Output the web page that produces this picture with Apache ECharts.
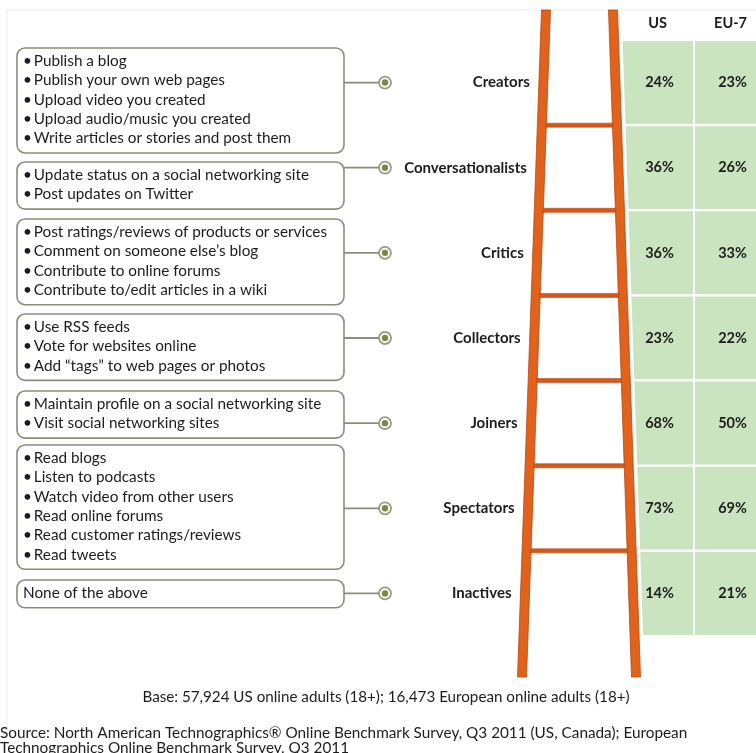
<!DOCTYPE html>
<html>
<head>
<meta charset="utf-8">
<script src="https://cdn.jsdelivr.net/npm/echarts/dist/echarts.min.js"></script>
<style>
html,body{margin:0;padding:0;background:#fff;overflow:hidden;width:756px;height:753px;}
#chart{width:767px;height:753px;}
</style>
</head>
<body>
<div id="chart"></div>
<script>
// ---------------- DATA ----------------
const segments = ['Creators', 'Conversationalists', 'Critics', 'Collectors', 'Joiners', 'Spectators', 'Inactives'];
const regions = ['US', 'EU-7'];
const usShare = [24, 36, 36, 23, 68, 73, 14];
const euShare = [23, 26, 33, 22, 50, 69, 21];
const activities = [
  ['Publish a blog', 'Publish your own web pages', 'Upload video you created', 'Upload audio/music you created', 'Write articles or stories and post them'],
  ['Update status on a social networking site', 'Post updates on Twitter'],
  ['Post ratings/reviews of products or services', 'Comment on someone else\u2019s blog', 'Contribute to online forums', 'Contribute to/edit articles in a wiki'],
  ['Use RSS feeds', 'Vote for websites online', 'Add \u201ctags\u201d to web pages or photos'],
  ['Maintain profile on a social networking site', 'Visit social networking sites'],
  ['Read blogs', 'Listen to podcasts', 'Watch video from other users', 'Read online forums', 'Read customer ratings/reviews', 'Read tweets'],
  ['None of the above']
];
const baseNote = 'Base: 57,924 US online adults (18+); 16,473 European online adults (18+)';
const sourceNote = 'Source: North American Technographics\u00ae Online Benchmark Survey, Q3 2011 (US, Canada); European\nTechnographics Online Benchmark Survey, Q3 2011';

// ---------------- LAYOUT / STYLE ----------------
const FONT = 'Lato, "Noto Sans", sans-serif';
const boxTops = [48, 162, 219, 314, 391, 445, 580];
const boxLeft = 17, boxRight = 344, lineH = 19.3, boxPadTop = 3.5, boxPadBottom = 5;
const rail = { top: 10, bottom: 677, w: 9, leftTop: 546, leftBottom: 522, rightTop: 613, rightBottom: 636 };
function railX(which, y) {
  const t = (y - rail.top) / (rail.bottom - rail.top);
  return which === 'L' ? rail.leftTop + (rail.leftBottom - rail.leftTop) * t
                       : rail.rightTop + (rail.rightBottom - rail.rightTop) * t;
}
const orange = '#e0621c', orangeDark = '#b9480f', green = '#c9e4bf', boxStroke = '#8c8c7c', ink = '#1c1c1c';

// ---------------- BUILD ----------------
const tableData = [];
segments.forEach((s, r) => {
  tableData.push([0, r, usShare[r]]);
  tableData.push([1, r, euShare[r]]);
});

const graphics = [];
graphics.push({ type: 'polyline', shape: { points: [[7, 740], [7, 10], [767, 10]] }, style: { stroke: '#ececec', lineWidth: 1, fill: null }, silent: true });
activities.forEach((items, i) => {
  const h = items.length * lineH + boxPadTop + boxPadBottom;
  graphics.push({
    type: 'rect', shape: { x: boxLeft, y: boxTops[i], width: boxRight - boxLeft, height: h, r: 8 },
    style: { fill: '#fff', stroke: boxStroke, lineWidth: 1.6 }, z: 1
  });
  const plain = items.length === 1 && i === activities.length - 1;
  const txt = items.map(t => plain ? t : '\u2022\u2009' + t).join('\n');
  graphics.push({
    type: 'text', x: 23, y: boxTops[i] + boxPadTop, z: 2,
    style: { text: txt, fontSize: 15.3, fontFamily: FONT, fill: ink, lineHeight: lineH, verticalAlign: 'top', align: 'left' }
  });
});
['L', 'R'].forEach(w => {
  const xt = railX(w, rail.top), xb = railX(w, rail.bottom), hw = rail.w / 2;
  graphics.push({
    type: 'polygon', z: 5,
    shape: { points: [[xt - hw, rail.top], [xt + hw, rail.top], [xb + hw, rail.bottom], [xb - hw, rail.bottom]] },
    style: { fill: orange, stroke: orangeDark, lineWidth: 0.8 }
  });
});
graphics.push({ type: 'text', x: 386, y: 697, style: { text: baseNote, fontSize: 15.2, fontFamily: FONT, fill: ink, align: 'center', verticalAlign: 'middle' } });
graphics.push({ type: 'text', x: 0, y: 726, style: { text: sourceNote, fontSize: 15.3, fontFamily: FONT, fill: ink, align: 'left', verticalAlign: 'top', lineHeight: 15 } });

const chart = echarts.init(document.getElementById('chart'), null, { renderer: 'canvas' });
chart.setOption({
  animation: false,
  backgroundColor: '#fff',
  textStyle: { fontFamily: FONT },
  grid: [
    { left: 621, top: 40, width: 146, height: 596 },
    { left: 0, top: 40, width: 621, height: 596 }
  ],
  xAxis: [
    { gridIndex: 0, type: 'category', data: regions, position: 'top',
      axisLine: { show: false }, axisTick: { show: false },
      axisLabel: { fontSize: 14.5, fontWeight: 'bold', color: ink, margin: 9, fontFamily: FONT } },
    { gridIndex: 1, type: 'value', min: 0, max: 621, show: false }
  ],
  yAxis: [
    { gridIndex: 0, type: 'category', data: segments, inverse: true, show: false },
    { gridIndex: 1, type: 'category', data: segments, inverse: true, show: false }
  ],
  graphic: graphics,
  series: [
    {
      type: 'custom', xAxisIndex: 0, yAxisIndex: 0, z: 3, clip: false,
      data: tableData,
      renderItem: function (params, api) {
        const c = api.coord([api.value(0), api.value(1)]);
        const s = api.size([1, 1]);
        const y0 = c[1] - s[1] / 2, y1 = c[1] + s[1] / 2;
        let x0t, x0b;
        const x1 = c[0] + s[0] / 2;
        if (api.value(0) === 0) {
          x0t = railX('R', y0) + rail.w / 2 + 3; x0b = railX('R', y1) + rail.w / 2 + 3;
        } else { x0t = x0b = c[0] - s[0] / 2; }
        return { type: 'group', children: [
          { type: 'polygon', shape: { points: [[x0t, y0], [x1, y0], [x1, y1], [x0b, y1]] },
            style: { fill: green, stroke: '#fff', lineWidth: 2 } },
          { type: 'text', x: c[0] + 2, y: c[1], style: { text: api.value(2) + '%', fontSize: 14.5, fontFamily: FONT, fontWeight: 'bold', fill: ink, align: 'center', verticalAlign: 'middle' } }
        ] };
      }
    },
    {
      type: 'custom', xAxisIndex: 1, yAxisIndex: 1, z: 4, clip: false,
      data: segments.map((s, i) => [i]),
      renderItem: function (params, api) {
        const i = api.value(0);
        const y = api.coord([0, i])[1];
        const xLab = railX('L', y) - rail.w / 2 - 9;
        const xBox = api.coord([boxRight, i])[0], xDot = api.coord([385, i])[0];
        return { type: 'group', children: [
          { type: 'line', shape: { x1: xBox, y1: y, x2: xDot - 6, y2: y }, style: { stroke: boxStroke, lineWidth: 1.8 } },
          { type: 'circle', shape: { cx: xDot, cy: y, r: 6 }, style: { fill: '#fff', stroke: '#9a9a82', lineWidth: 1.8 } },
          { type: 'circle', shape: { cx: xDot, cy: y, r: 3.2 }, style: { fill: '#7e8748' } },
          { type: 'text', x: xLab, y: y, style: { text: segments[i], fontSize: 15, fontFamily: FONT, fontWeight: 'bold', fill: ink, align: 'right', verticalAlign: 'middle' } }
        ] };
      }
    },
    {
      type: 'custom', xAxisIndex: 1, yAxisIndex: 1, z: 6, clip: false,
      data: segments.slice(0, -1).map((s, i) => [i]),
      renderItem: function (params, api) {
        const i = api.value(0);
        const y = api.coord([0, i])[1] + api.size([0, 1])[1] / 2;
        const xa = railX('L', y) + rail.w / 2 - 0.5, xb = railX('R', y) - rail.w / 2 + 0.5;
        return { type: 'rect', shape: { x: xa, y: y - 2, width: xb - xa, height: 4 }, style: { fill: '#d4581a', stroke: orangeDark, lineWidth: 0.6 } };
      }
    }
  ]
});
</script>
</body>
</html>
